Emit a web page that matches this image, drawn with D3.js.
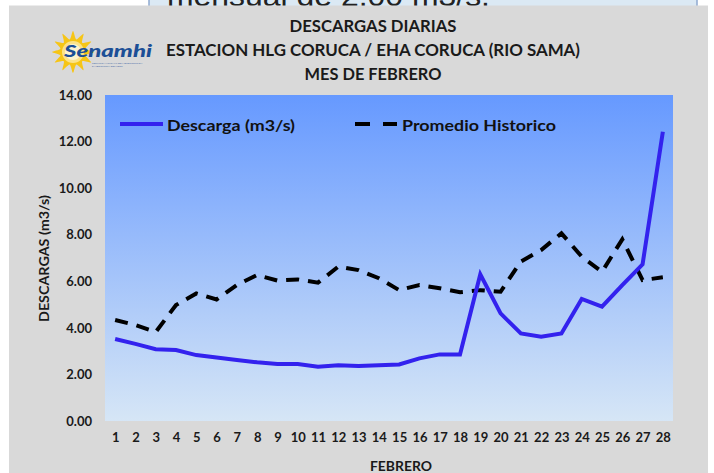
<!DOCTYPE html>
<html><head><meta charset="utf-8">
<script src="https://cdn.jsdelivr.net/npm/d3@7"></script>
<style>html,body{margin:0;padding:0;background:#fff;overflow:hidden}svg{display:block}</style>
</head><body>
<script>
const dias = ["1","2","3","4","5","6","7","8","9","10","11","12","13","14","15","16","17","18","19","20","21","22","23","24","25","26","27","28"];
const descarga = [3.52,3.31,3.08,3.05,2.83,2.73,2.62,2.52,2.45,2.45,2.33,2.39,2.36,2.39,2.43,2.69,2.86,2.86,6.30,4.62,3.76,3.62,3.76,5.24,4.91,5.84,6.73,12.42];
const promedio = [4.34,4.12,3.82,4.98,5.48,5.22,5.84,6.27,6.03,6.08,5.94,6.63,6.48,6.13,5.62,5.84,5.70,5.53,5.62,5.55,6.85,7.34,8.06,7.06,6.41,7.80,6.05,6.17];
const yTicks = [0,2,4,6,8,10,12,14];
const titulos = ["DESCARGAS DIARIAS","ESTACION  HLG CORUCA / EHA CORUCA (RIO SAMA)","MES DE FEBRERO"];
const serieNombres = ["Descarga (m3/s)","Promedio Historico"];

const W=714,H=473;
const FONT="Lato, 'Open Sans', 'DejaVu Sans', sans-serif";
const svg=d3.select("body").append("svg").attr("width",W).attr("height",H);
const defs=svg.append("defs");
const grad=defs.append("linearGradient").attr("id","bg").attr("x1",0).attr("y1",0).attr("x2",0).attr("y2",1);
grad.append("stop").attr("offset","0%").attr("stop-color","#6699ff");
grad.append("stop").attr("offset","100%").attr("stop-color","#d6e6f6");

// background slide box at top (partially hidden)
svg.append("rect").attr("x",149).attr("y",-20).attr("width",548).attr("height",40).attr("fill","#dbe9f4").attr("stroke","#8fa9d0").attr("stroke-width",1.5);
svg.append("text").attr("x",167).attr("y",6).attr("font-family","'Liberation Sans', Arial, sans-serif").attr("font-size",30).attr("fill","#222")
  .attr("textLength",323).attr("lengthAdjust","spacingAndGlyphs").text("mensual de 2.00 m3/s.");

// gray chart panel
svg.append("rect").attr("x",9).attr("y",5.5).attr("width",699).attr("height",480).attr("fill","#d9d9d9");

// logo
const logo=svg.append("g").attr("transform","translate(73,52)");
const rays=12, pts=[];
for(let i=0;i<rays*2;i++){const a=i*Math.PI/rays - Math.PI/2; const r=i%2===0?21:13; pts.push([r*Math.cos(a),r*Math.sin(a)]);}
logo.append("path").attr("d",d3.line().curve(d3.curveCardinalClosed.tension(0.3))(pts)).attr("fill","#f6c516");
logo.append("circle").attr("r",11).attr("fill","#fbe38a");
logo.append("circle").attr("r",8).attr("fill","#fdf3cf");
svg.append("text").attr("x",64).attr("y",57).attr("font-family",FONT).attr("font-style","italic").attr("font-weight","900")
  .attr("font-size",17).attr("fill","#1c4f96").attr("textLength",88).attr("lengthAdjust","spacingAndGlyphs").text("Senamhi");
svg.append("text").attr("x",92).attr("y",64).attr("font-family",FONT).attr("font-size",2.6).attr("fill","#4a6ea8").text("SERVICIO NACIONAL DE METEOROLOGIA");
svg.append("text").attr("x",92).attr("y",67).attr("font-family",FONT).attr("font-size",2.6).attr("fill","#4a6ea8").text("E HIDROLOGIA DEL PERU");

// titles
const tY=[32,56,80], tW=[167,414,137];
titulos.forEach((t,i)=>{
  svg.append("text").attr("x",373).attr("y",tY[i]).attr("text-anchor","middle").attr("font-family",FONT).attr("font-weight","bold")
   .attr("font-size",17).attr("fill","#1a1a1a").attr("textLength",tW[i]).attr("lengthAdjust","spacingAndGlyphs").text(t);
});

// plot area
const x=d3.scalePoint().domain(dias).range([105,673]).padding(0.5);
const y=d3.scaleLinear().domain([0,14]).range([421,95]);
svg.append("rect").attr("x",105).attr("y",95).attr("width",568).attr("height",326).attr("fill","url(#bg)");

// y axis
const ya=svg.append("g").attr("transform","translate(105,0)").call(d3.axisLeft(y).tickValues(yTicks).tickFormat(d3.format(".2f")).tickSize(0).tickPadding(13));
ya.select(".domain").remove();
ya.selectAll("text").attr("font-family",FONT).attr("font-weight","bold").attr("font-size",13).attr("fill","#1a1a1a");

// x axis
const xa=svg.append("g").attr("transform","translate(0,421)").call(d3.axisBottom(x).tickSize(0).tickPadding(12));
xa.select(".domain").remove();
xa.selectAll("text").attr("font-family",FONT).attr("font-weight","bold").attr("font-size",13).attr("fill","#1a1a1a");

// axis titles
svg.append("text").attr("transform","translate(49,258.5) rotate(-90)").attr("text-anchor","middle").attr("font-family",FONT)
  .attr("font-weight","bold").attr("font-size",13).attr("fill","#1a1a1a").attr("textLength",127).attr("lengthAdjust","spacingAndGlyphs").text("DESCARGAS (m3/s)");
svg.append("text").attr("x",401).attr("y",471).attr("text-anchor","middle").attr("font-family",FONT)
  .attr("font-weight","bold").attr("font-size",13).attr("fill","#1a1a1a").attr("textLength",62).attr("lengthAdjust","spacingAndGlyphs").text("FEBRERO");

// lines
const line=d3.line().x((d,i)=>x(dias[i])).y(d=>y(d));
svg.append("path").datum(promedio).attr("d",line).attr("fill","none").attr("stroke","#000").attr("stroke-width",4)
  .attr("stroke-dasharray","13,9");
svg.append("path").datum(descarga).attr("d",line).attr("fill","none").attr("stroke","#3322ee").attr("stroke-width",4).attr("stroke-linejoin","miter");

// legend
svg.append("line").attr("x1",120).attr("x2",163).attr("y1",124).attr("y2",124).attr("stroke","#3322ee").attr("stroke-width",4);
svg.append("text").attr("x",167).attr("y",130.5).attr("font-family",FONT).attr("font-weight","bold").attr("font-size",15).attr("fill","#111")
  .attr("textLength",128).attr("lengthAdjust","spacingAndGlyphs").text(serieNombres[0]);
svg.append("line").attr("x1",355).attr("x2",397).attr("y1",124).attr("y2",124).attr("stroke","#000").attr("stroke-width",4).attr("stroke-dasharray","15,13");
svg.append("text").attr("x",402).attr("y",130.5).attr("font-family",FONT).attr("font-weight","bold").attr("font-size",15).attr("fill","#111")
  .attr("textLength",154).attr("lengthAdjust","spacingAndGlyphs").text(serieNombres[1]);
</script>
</body></html>
